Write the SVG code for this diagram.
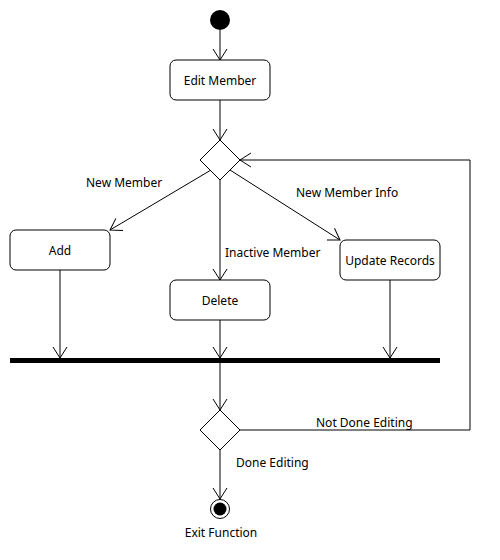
<svg xmlns="http://www.w3.org/2000/svg" width="500" height="560" viewBox="0 0 500 560">
<defs>
<marker id="arr" markerUnits="userSpaceOnUse" markerWidth="14" markerHeight="16" viewBox="0 0 14 16" refX="12" refY="8" orient="auto">
<path d="M1,1 L12,8 L1,15" fill="none" stroke="#000" stroke-width="1"/>
</marker>
<style>
.box{fill:#fff;stroke:#000;stroke-width:1}
.t{font-family:"Noto Sans","Open Sans",sans-serif;font-size:12px;fill:#000}
.c{text-anchor:middle}
.ln{fill:none;stroke:#000;stroke-width:1}
</style>
</defs>
<rect width="500" height="560" fill="#fff"/>
<g id="connectors">
<line class="ln" x1="220" y1="30" x2="220" y2="60" marker-end="url(#arr)"/>
<line class="ln" x1="220" y1="100" x2="220" y2="140" marker-end="url(#arr)"/>
<line class="ln" x1="211" y1="170" x2="110" y2="230" marker-end="url(#arr)"/>
<line class="ln" x1="220" y1="180" x2="220" y2="280" marker-end="url(#arr)"/>
<line class="ln" x1="230" y1="170" x2="340" y2="240" marker-end="url(#arr)"/>
<line class="ln" x1="60" y1="270" x2="60" y2="358" marker-end="url(#arr)"/>
<line class="ln" x1="220" y1="320" x2="220" y2="358" marker-end="url(#arr)"/>
<line class="ln" x1="390" y1="280" x2="390" y2="358" marker-end="url(#arr)"/>
<line class="ln" x1="220" y1="363" x2="220" y2="410" marker-end="url(#arr)"/>
<line class="ln" x1="220" y1="450" x2="220" y2="499" marker-end="url(#arr)"/>
<polyline class="ln" points="240,430 470,430 470,160 240,160" marker-end="url(#arr)"/>
<text class="t" x="86" y="187">New Member</text>
<text class="t" x="296" y="197">New Member Info</text>
<text class="t" x="225" y="257">Inactive Member</text>
<text class="t" x="316" y="427">Not Done Editing</text>
<text class="t" x="236" y="467">Done Editing</text>
</g>
<g id="start"><circle cx="220" cy="20" r="10" fill="#000"/></g>
<g id="edit-member"><rect class="box" x="170" y="60" width="100" height="40" rx="6"/><text class="t c" x="220" y="85">Edit Member</text></g>
<g id="decision1"><polygon class="box" points="220,140 240,160 220,180 200,160"/></g>
<g id="add"><rect class="box" x="10" y="230" width="100" height="40" rx="6"/><text class="t c" x="60" y="255">Add</text></g>
<g id="delete"><rect class="box" x="170" y="280" width="100" height="40" rx="6"/><text class="t c" x="220" y="305">Delete</text></g>
<g id="update-records"><rect class="box" x="340" y="240" width="100" height="40" rx="6"/><text class="t c" x="390" y="265">Update Records</text></g>
<g id="join-bar"><rect x="10" y="358" width="430" height="5" fill="#000"/></g>
<g id="decision2"><polygon class="box" points="220,410 240,430 220,450 200,430"/></g>
<g id="end"><circle cx="220" cy="509" r="9.5" fill="#fff" stroke="#000" stroke-width="1"/><circle cx="220" cy="509" r="6.5" fill="#000"/><text class="t c" x="221" y="537">Exit Function</text></g>
</svg>
